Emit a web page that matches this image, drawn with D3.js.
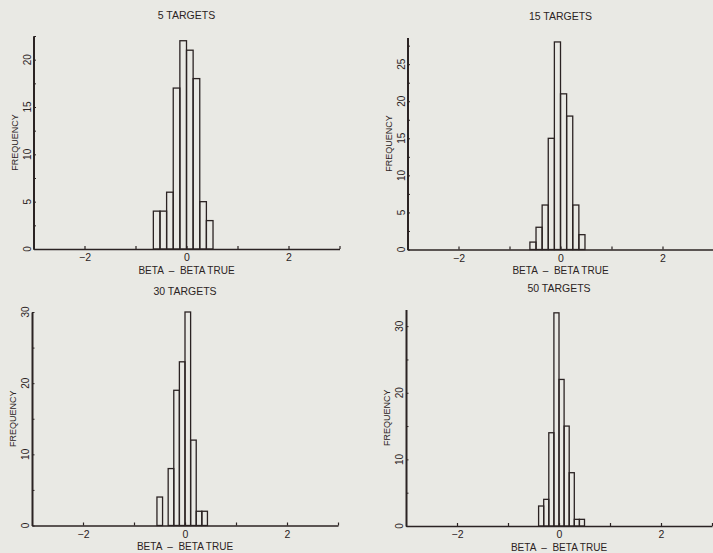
<!DOCTYPE html>
<html><head><meta charset="utf-8">
<script src="https://cdn.jsdelivr.net/npm/d3@7"></script>
<style>body{margin:0;background:#e9e9e4;} svg{display:block}</style>
</head><body><svg id="c" width="713" height="553"></svg>
<script>
// ---- data ----
const titles = ["5 TARGETS", "15 TARGETS", "30 TARGETS", "50 TARGETS"];
const binStart = [-0.65, -0.6, -0.55, -0.4];
const binWidth = [0.13, 0.12, 0.11, 0.10];
const counts5  = [4, 4, 6, 17, 22, 21, 18, 5, 3];
const counts15 = [1, 3, 6, 15, 28, 21, 18, 6, 2];
const counts30 = [4, 0, 8, 19, 23, 30, 12, 2, 2];
const counts50 = [3, 4, 14, 32, 22, 15, 8, 1, 1];
const yMax   = [22.5, 28.6, 30, 32.5];
const yMajor = [5, 5, 10, 10];
const yMinor = [2.5, 2.5, 5, 5];
const xTicks = [-2, -1, 0, 1, 2, 3];
const xLabelTicks = [-2, 0, 2];
const xDomain = [-3, 3];
const xTitle = "BETA  \u2013  BETA TRUE";
const yTitle = "FREQUENCY";

// ---- layout ----
const panels = [
  {left: 33.5, bottom: 249, height: 213},
  {left: 407.5, bottom: 249.5, height: 212},
  {left: 32, bottom: 525.5, height: 213.5},
  {left: 406, bottom: 526, height: 216.5}
];
const plotW = 306;
const ink = "#2b2323";
const font = "'Liberation Sans', Arial, sans-serif";
const allCounts = [counts5, counts15, counts30, counts50];

const svg = d3.select("#c");
svg.append("rect").attr("width", 713).attr("height", 553).attr("fill", "#e9e9e4");

panels.forEach((p, k) => {
  const x = d3.scaleLinear().domain(xDomain).range([p.left, p.left + plotW]);
  const y = d3.scaleLinear().domain([0, yMax[k]]).range([p.bottom, p.bottom - p.height]);
  const g = svg.append("g");
  const counts = allCounts[k];
  const bins = counts.map((c, i) => ({x0: binStart[k] + i * binWidth[k], x1: binStart[k] + (i + 1) * binWidth[k], c}));

  // bars
  g.selectAll("rect.bar").data(bins.filter(b => b.c > 0)).join("rect")
    .attr("class", "bar")
    .attr("x", d => x(d.x0)).attr("width", d => x(d.x1) - x(d.x0))
    .attr("y", d => y(d.c)).attr("height", d => y(0) - y(d.c))
    .attr("fill", "none").attr("stroke", ink).attr("stroke-width", 1.3);

  // x axis
  const xa = g.append("g").attr("transform", `translate(0,${p.bottom})`)
    .call(d3.axisBottom(x).tickValues(xTicks).tickSize(-3).tickSizeOuter(0).tickPadding(5)
      .tickFormat(d => xLabelTicks.includes(d) ? d3.format("d")(d) : ""));
  xa.select(".domain").attr("stroke", ink).attr("stroke-width", 1.6);
  xa.selectAll(".tick line").attr("stroke", ink).attr("stroke-width", 1.2);
  xa.selectAll("text").attr("fill", ink).style("font-family", font).style("font-size", "10.5px");

  // y axis
  const ya = g.append("g").attr("transform", `translate(${p.left},0)`)
    .call(d3.axisLeft(y).tickValues(d3.range(0, yMax[k] + 0.001, yMinor[k])).tickSize(-2.5).tickSizeOuter(0).tickFormat(""));
  ya.select(".domain").attr("stroke", ink).attr("stroke-width", 2);
  ya.selectAll(".tick line").attr("stroke", ink).attr("stroke-width", 1);

  // y tick labels (rotated)
  g.selectAll("text.ylab").data(d3.range(0, yMax[k] + 0.001, yMajor[k])).join("text")
    .attr("class", "ylab")
    .attr("transform", d => `translate(${p.left - 3},${y(d)}) rotate(-90)`)
    .attr("text-anchor", "middle")
    .attr("fill", ink).style("font-family", font).style("font-size", "10px")
    .text(d => d);

  // y title
  g.append("text")
    .attr("transform", `translate(${p.left - 16},${(p.bottom + p.bottom - p.height) / 2}) rotate(-90)`)
    .attr("text-anchor", "middle").attr("fill", ink)
    .style("font-family", font).style("font-size", "9px")
    .text(yTitle);

  // x title
  g.append("text")
    .attr("x", x(0)).attr("y", p.bottom + 24.5)
    .attr("text-anchor", "middle").attr("fill", ink)
    .style("font-family", font).style("font-size", "10px").style("white-space", "pre")
    .text(xTitle);

  // panel title
  g.append("text")
    .attr("x", x(0)).attr("y", p.bottom - p.height - 17.5)
    .attr("text-anchor", "middle").attr("fill", ink)
    .style("font-family", font).style("font-size", "10.5px")
    .text(titles[k]);
});
</script></body></html>
